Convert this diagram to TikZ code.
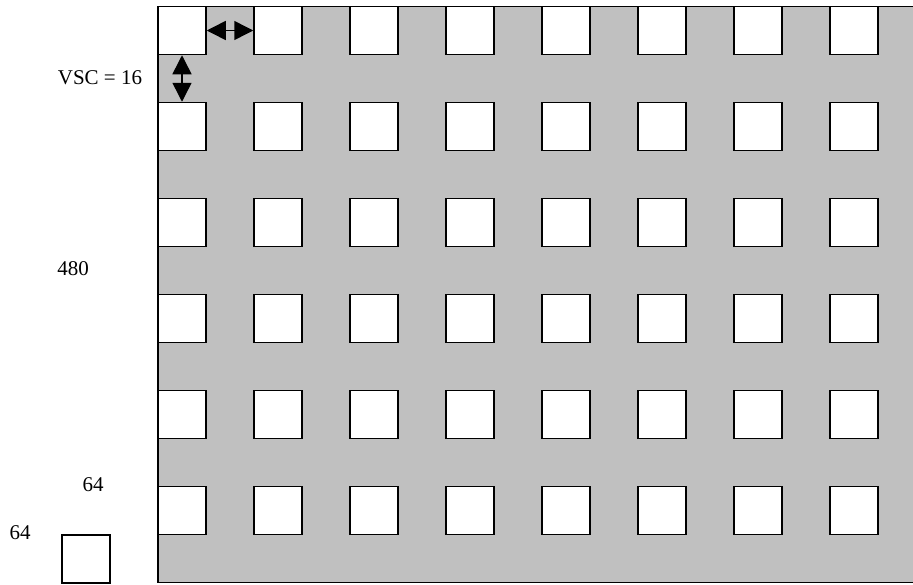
\documentclass[tikz,border=0pt]{standalone}
\usepackage{fontspec}
\setmainfont{Liberation Serif}
\usetikzlibrary{arrows.meta}
\definecolor{panelgray}{RGB}{192,192,192}
\tikzset{
  cell/.style={draw=black, fill=white, line width=1.5pt, minimum size=48pt, inner sep=0pt},
  lbl/.style={font=\fontsize{21}{24}\selectfont, inner sep=0pt},
  dbl/.style={line width=1.5pt, {Triangle[length=19pt,width=19pt]}-{Triangle[length=19pt,width=19pt]}}
}
\begin{document}
\begin{tikzpicture}[x=1pt,y=-1pt]
\useasboundingbox (0,0) rectangle (913,584);
\clip (0,0) rectangle (913,584);
\fill[white] (0,0) rectangle (913,584);
\filldraw[fill=panelgray, draw=black, line width=1.5pt] (158,6.5) rectangle (930,582.5);
\foreach \r in {1,...,6}{
  \foreach \c in {1,...,8}{
    \node[cell] (s\r\c) at ({182+96*(\c-1)},{30.5+96*(\r-1)}) {};
  }
}
\node[cell] (small) at (86,559) {};
\draw[dbl] (s11) -- (s12);
\draw[dbl] (s11) -- (s21);
\node[lbl] (vsc) at (100,78) {VSC = 16};
\node[lbl] (h) at (73,269) {480};
\node[lbl] (w1) at (93,485) {64};
\node[lbl] (w2) at (20,533) {64};
\end{tikzpicture}
\end{document}
